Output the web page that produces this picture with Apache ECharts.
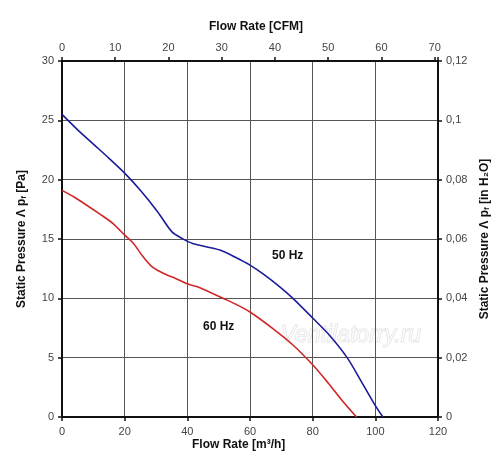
<!DOCTYPE html>
<html>
<head>
<meta charset="utf-8">
<script src="https://cdn.jsdelivr.net/npm/echarts@6/dist/echarts.min.js"></script>
<style>html,body{margin:0;padding:0;background:#fff}#c{width:500px;height:473px}</style>
</head>
<body>
<div id="c"></div>
<script>
// Flow rate [m³/h] and static pressure [Pa]
var flow50 = [0, 5, 10, 15, 20, 25, 30.5, 35.1, 38.3, 41.9, 50.4, 55.8, 60, 64.5, 69.6, 73.7, 80, 85.5, 91, 95.5, 99.9, 102.4];
var pres50 = [25.5, 24.2, 23.0, 21.8, 20.55, 19.1, 17.3, 15.6, 15.05, 14.6, 14.07, 13.4, 12.8, 12.0, 10.95, 10, 8.34, 6.85, 5.0, 3.0, 1.0, 0];
var flow60 = [0, 4.1, 12.1, 16.3, 20.1, 22.7, 25.9, 29, 33.5, 36.1, 40.2, 44, 51.4, 55.5, 60, 67.3, 73.7, 80, 85, 90, 94];
var pres60 = [19.1, 18.5, 17.1, 16.3, 15.3, 14.66, 13.5, 12.6, 11.96, 11.7, 11.2, 10.9, 10.0, 9.5, 8.85, 7.45, 6.07, 4.4, 2.85, 1.2, 0];
var bottomTicks = [0, 20, 40, 60, 80, 100, 120];
var leftTicks = [0, 5, 10, 15, 20, 25, 30];
var topTicks = [0, 10, 20, 30, 40, 50, 60, 70];
var rightTicks = [0, 0.02, 0.04, 0.06, 0.08, 0.1, 0.12];
var labels = ['50 Hz', '60 Hz'];

function pairs(xs, ys) { return xs.map(function (x, i) { return [x, ys[i]]; }); }

var chart = echarts.init(document.getElementById('c'), null, {renderer: 'canvas'});
var FONT = 'Arial, "Liberation Sans", sans-serif';
var tickLabel = {color: '#444', fontSize: 11, fontFamily: FONT};
var axisLine = {show: true, onZero: false, lineStyle: {color: '#111', width: 2}};
var axisTick = {show: true, inside: false, length: 4, lineStyle: {color: '#111', width: 1.5}};
var split = {show: true, lineStyle: {color: '#555', width: 1}};
var titleFont = {fontSize: 12, fontWeight: 'bold', color: '#111', fontFamily: FONT};
var subFont = {fontSize: 8, fontWeight: 'bold', color: '#111', fontFamily: FONT, verticalAlign: 'bottom', lineHeight: 12};

chart.setOption({
  animation: false,
  backgroundColor: '#fff',
  grid: {left: 62, right: 62, top: 61, bottom: 56, containLabel: false},
  xAxis: [
    {type: 'value', position: 'bottom', min: bottomTicks[0], max: bottomTicks[bottomTicks.length - 1],
     interval: bottomTicks[1] - bottomTicks[0], axisLine: axisLine, axisTick: axisTick,
     axisLabel: Object.assign({margin: 9}, tickLabel), splitLine: split},
    {type: 'value', position: 'top', min: 0, max: bottomTicks[bottomTicks.length - 1] / 1.699,
     interval: topTicks[1] - topTicks[0], axisLine: axisLine,
     axisTick: axisTick, splitLine: {show: false},
     axisLabel: Object.assign({margin: 8, formatter: function (v) { return topTicks.indexOf(Math.round(v * 1000) / 1000) >= 0 ? String(v) : ''; }}, tickLabel)}
  ],
  yAxis: [
    {type: 'value', position: 'left', min: leftTicks[0], max: leftTicks[leftTicks.length - 1],
     interval: leftTicks[1] - leftTicks[0], axisLine: axisLine, axisTick: axisTick,
     axisLabel: Object.assign({margin: 8}, tickLabel), splitLine: split,
     name: '{a|Static Pressure Λ p}{s|f}{a| [Pa]}', nameLocation: 'middle', nameGap: 34,
     nameTextStyle: {rich: {a: titleFont, s: subFont}}},
    {type: 'value', position: 'right', min: rightTicks[0], max: rightTicks[rightTicks.length - 1],
     interval: rightTicks[1] - rightTicks[0], axisLine: axisLine, axisTick: axisTick,
     axisLabel: Object.assign({margin: 8, formatter: function (v) { return String(Math.round(v * 1000) / 1000).replace('.', ','); }}, tickLabel),
     splitLine: {show: false},
     name: '{a|Static Pressure Λ p}{s|f}{a| [in H₂O]}', nameLocation: 'middle', nameGap: 39, nameRotate: 90,
     nameTextStyle: {rich: {a: titleFont, s: subFont}}}
  ],
  graphic: [
    {type: 'text', left: 209, top: 21, style: {text: 'Flow Rate [CFM]', font: 'bold 12px ' + FONT, fill: '#111'}},
    {type: 'text', left: 192, top: 439, style: {text: 'Flow Rate [m³/h]', font: 'bold 12px ' + FONT, fill: '#111'}},
    {type: 'text', left: 272, top: 250, style: {text: labels[0], font: 'bold 12px ' + FONT, fill: '#111'}},
    {type: 'text', left: 203, top: 321, style: {text: labels[1], font: 'bold 12px ' + FONT, fill: '#111'}},
    {type: 'text', left: 280, top: 324, z: -1, style: {text: 'Ventilatorry.ru', font: 'italic 23px ' + FONT, fill: 'rgba(255,255,255,0.6)', stroke: 'rgba(200,200,200,0.6)', lineWidth: 1}}
  ],
  series: [
    {type: 'line', name: labels[0], xAxisIndex: 0, yAxisIndex: 0, data: pairs(flow50, pres50), smooth: 0.3,
     showSymbol: false, lineStyle: {color: '#1c1c9a', width: 1.6}, z: 3},
    {type: 'line', name: labels[1], xAxisIndex: 0, yAxisIndex: 0, data: pairs(flow60, pres60), smooth: 0.3,
     showSymbol: false, lineStyle: {color: '#d02828', width: 1.6}, z: 3}
  ]
});
</script>
</body>
</html>
